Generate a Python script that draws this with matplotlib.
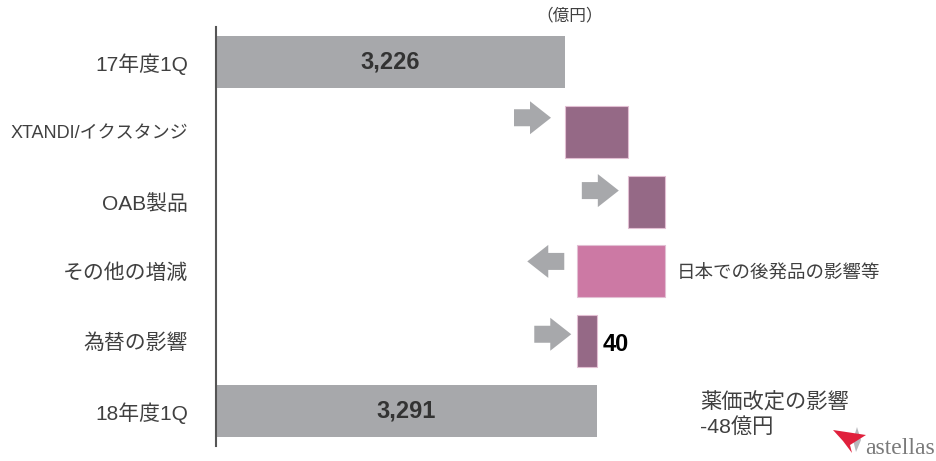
import matplotlib.pyplot as plt
import matplotlib.patches as mpatches

plt.rcParams['font.family'] = ['Liberation Sans', 'Noto Sans CJK JP', 'DejaVu Sans']

# data (億円)
categories = ["17年度1Q", "XTANDI/イクスタンジ", "OAB製品", "その他の増減", "為替の影響", "18年度1Q"]
start_total = 3226
deltas = [128, 75, -178, 40]
end_total = 3291
total_labels = ["3,226", "3,291"]
fx_label = "40"

gray = '#a7a8ab'
purple = '#956986'
pink = '#cc79a4'
delta_colors = [purple, purple, pink, purple]

W, H = 936, 461
fig = plt.figure(figsize=(W / 100, H / 100), dpi=100)
ax = fig.add_axes([216 / W, 15 / H, 720 / W, 419 / H])

x0 = 2515
px_per_unit = 349 / (3226 - x0)
ax.set_xlim(x0, x0 + 720 / px_per_unit)
ax.set_ylim(5.5, -0.5)
row_px = 419 / 6
bh = 52 / row_px

# totals
ax.barh(0, start_total - x0, left=x0, height=bh, color=gray)
ax.barh(5, end_total - x0, left=x0, height=bh, color=gray)
for row, val, lab in [(0, start_total, total_labels[0]), (5, end_total, total_labels[1])]:
    ax.text((x0 + val) / 2, row, lab, ha='center', va='center',
            fontsize=17, fontweight='bold', color='#333333')

# deltas with arrows
arrow_gap_px = [14, 9, 13, 6]
arrow_dy_px = [-14, -11, -10, -7]
cum = start_total
for i, d in enumerate(deltas):
    row = i + 1
    ax.barh(row, d, left=cum, height=bh, color=delta_colors[i],
            edgecolor='#e2bfd3', linewidth=0.8)
    lo = min(cum, cum + d)
    gap = arrow_gap_px[i] / px_per_unit
    alen = 37 / px_per_unit
    ay = row + arrow_dy_px[i] / row_px
    if d > 0:
        ax_start, adx = lo - gap - alen, alen
    else:
        ax_start, adx = lo - gap, -alen
    arr = mpatches.FancyArrow(ax_start, ay, adx, 0, width=17 / row_px,
                              head_width=33 / row_px, head_length=21 / px_per_unit,
                              length_includes_head=True, color=gray, lw=0)
    ax.add_patch(arr)
    cum += d

fx_end = start_total + sum(deltas)
ax.text(fx_end + 6 / px_per_unit, 4.05, fx_label, ha='left', va='center',
        fontsize=17, fontweight='bold', color='black')

ax.text(start_total + sum(deltas[:2]) + 12 / px_per_unit, 3.03, "日本での後発品の影響等",
        ha='left', va='center', fontsize=13.3, color='#404040')

ax.set_yticks(range(len(categories)))
ax.set_yticklabels(categories, fontsize=15, color='#404040')
ax.get_yticklabels()[1].set_fontsize(13)
ax.tick_params(axis='y', length=0, pad=20)
ax.set_xticks([])
for s in ['top', 'right', 'bottom']:
    ax.spines[s].set_visible(False)
ax.spines['left'].set_color('#555555')
ax.spines['left'].set_linewidth(1.5)

fig.text(570 / W, 1 - 15 / H, "（億円）", ha='center', va='center', fontsize=12, color='#404040')
fig.text(700 / W, 1 - 402 / H, "薬価改定の影響", ha='left', va='center',
         fontsize=15.3, color='#404040')
fig.text(700 / W, 1 - 427 / H, "-48億円", ha='left', va='center',
         fontsize=15.3, color='#404040')

# logo
star = mpatches.Polygon([(857 / W, 1 - 427 / H), (861 / W, 1 - 440 / H),
                         (856 / W, 1 - 452 / H), (853 / W, 1 - 440 / H)],
                        closed=True, transform=fig.transFigure, color='#b8b8bc', lw=0)
fig.patches.append(star)
logo = mpatches.Polygon([(833 / W, 1 - 430 / H), (866 / W, 1 - 435 / H),
                         (850 / W, 1 - 445 / H), (852 / W, 1 - 453 / H),
                         (843 / W, 1 - 441 / H)],
                        closed=True, transform=fig.transFigure, color='#e0203c', lw=0)
fig.patches.append(logo)
fig.text(935 / W, 1 - 448 / H, "astellas", ha='right', va='center', fontsize=17,
         family='Liberation Serif', color='#7a7a7a')

fig.savefig('out.png', dpi=100)
